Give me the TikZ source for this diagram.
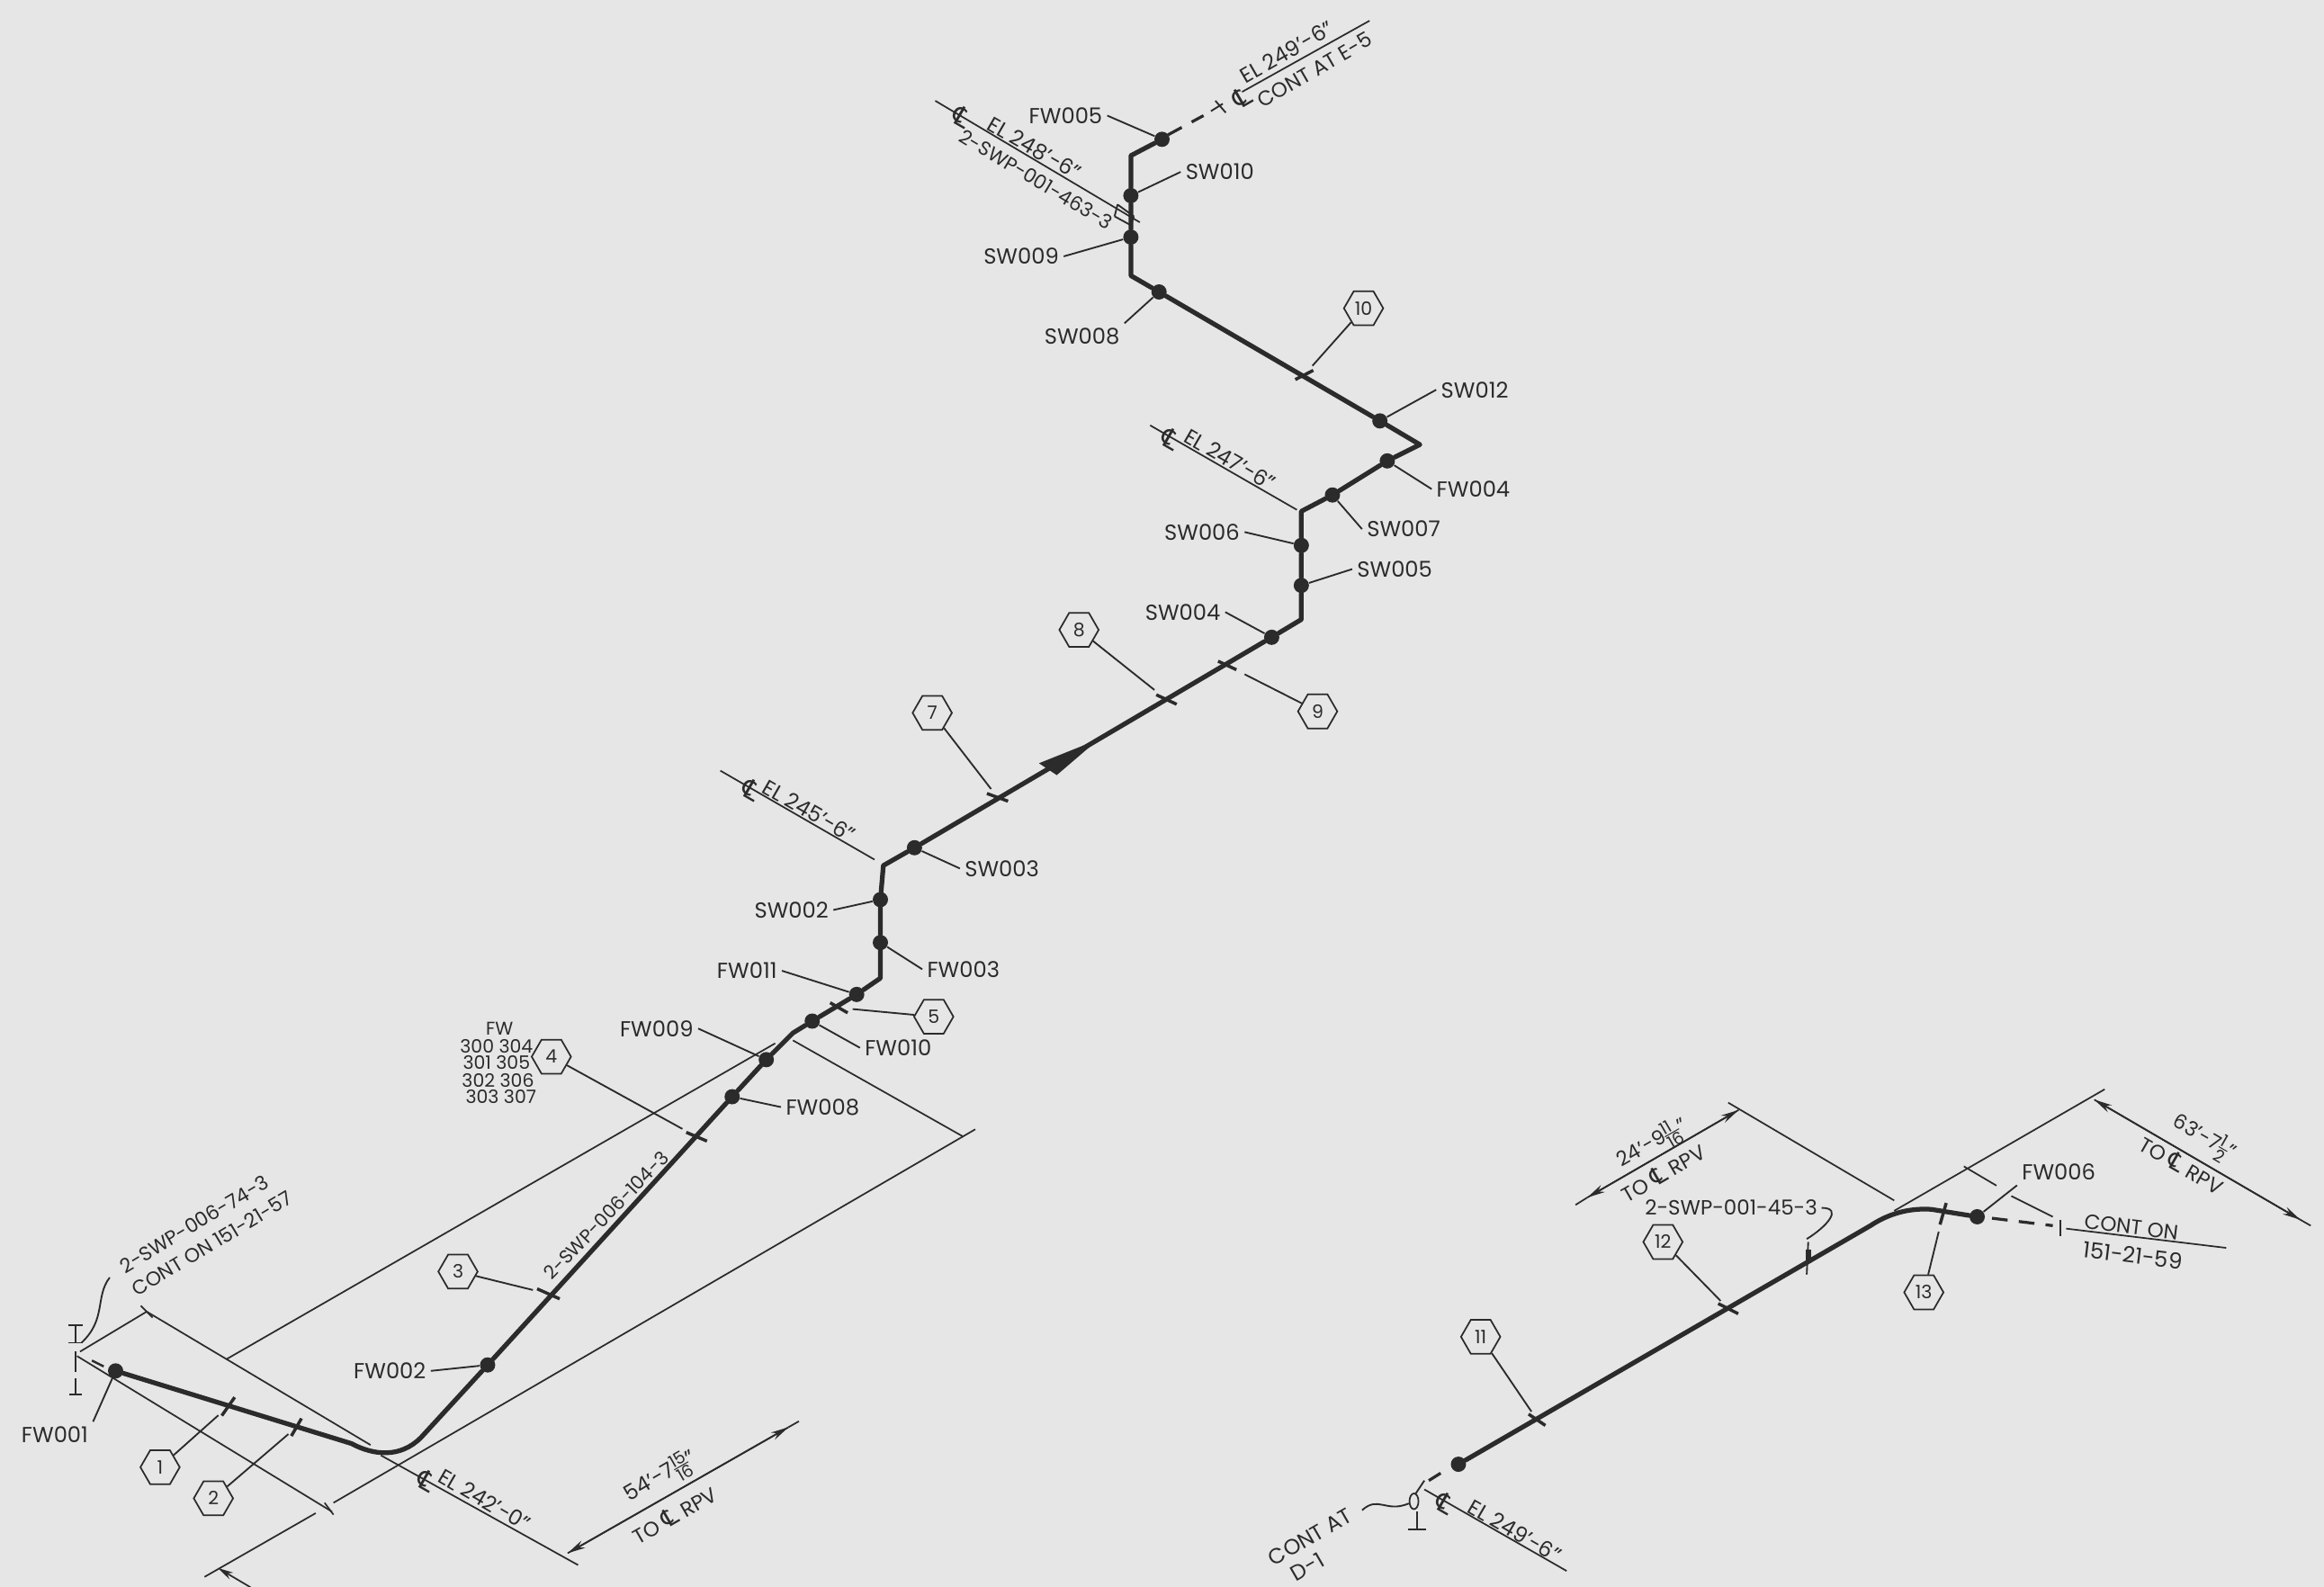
\documentclass[tikz,border=0pt]{standalone}
\usepackage{fontspec}
\setmainfont{Poppins}
\newfontfamily\djf{DejaVu Sans}
\usetikzlibrary{shapes.geometric,arrows.meta,calc}
\definecolor{ink}{HTML}{2B2B2B}
\definecolor{paper}{HTML}{E6E6E6}
\newcommand{\cln}{{\djf\fontsize{11}{11}\selectfont ℄}}
\newcommand{\frc}[2]{$\vcenter{\hbox{\fontsize{7.6}{8}\selectfont #1}\kern.5pt\hrule\kern.5pt\hbox{\fontsize{7.6}{8}\selectfont #2}}$}
\tikzset{
  pipe/.style={draw=ink,line width=2.1pt,line join=round,line cap=round},
  dashpipe/.style={draw=ink,line width=1.3pt,dash pattern=on 7pt off 5pt},
  thin/.style={draw=ink,line width=0.7pt},
  lead/.style={draw=ink,line width=0.75pt},
  dotn/.style={circle,fill=ink,inner sep=0pt,minimum size=6.8pt},
  lab/.style={text=ink,font=\fontsize{9.7}{11}\selectfont,inner sep=2pt},
  eltx/.style={text=ink,font=\fontsize{9.5}{11}\selectfont,inner sep=0pt},
  sm/.style={text=ink,font=\fontsize{8.2}{9.5}\selectfont,inner sep=0pt},
  rpv/.style={text=ink,font=\fontsize{9.2}{10}\selectfont,inner sep=0pt},
  hexn/.style={regular polygon,regular polygon sides=6,draw=ink,line width=0.7pt,inner sep=0pt,minimum size=17.5pt,text=ink,font=\fontsize{8.2}{9}\selectfont},
  tk/.style={fill=ink,inner sep=0pt,minimum height=1.4pt,minimum width=#1},
  tk/.default=10pt,
  clmark/.style={text=ink,font=\djf\fontsize{12}{12}\selectfont,inner sep=0pt},
  dim/.style={draw=ink,line width=0.7pt},
  dimarr/.style={dim,-{Stealth[length=8pt,width=3.6pt]}},
}
\begin{document}
\begin{tikzpicture}[x=0.66pt,y=-0.66pt]
\useasboundingbox[fill=paper] (0,0) rectangle (1568,1070.8);

% ---------- dots on the main run
\node[dotn] (fw001) at (78,925) {};
\node[dotn] (fw002) at (329,921) {};
\node[dotn] (fw008) at (494,740) {};
\node[dotn] (fw009) at (517,715) {};
\node[dotn] (fw010) at (548,689) {};
\node[dotn] (fw011) at (578,671) {};
\node[dotn] (fw003) at (594,636) {};
\node[dotn] (sw002) at (594,607) {};
\node[dotn] (sw003) at (617,572) {};
\node[dotn] (sw004) at (858,430) {};
\node[dotn] (sw005) at (878,395) {};
\node[dotn] (sw006) at (878,368) {};
\node[dotn] (sw007) at (899,334) {};
\node[dotn] (fw004) at (936,311) {};
\node[dotn] (sw012) at (931,284) {};
\node[dotn] (sw008) at (782,197) {};
\node[dotn] (sw009) at (763,160) {};
\node[dotn] (sw010) at (763,132) {};
\node[dotn] (fw005) at (784,94) {};
\node[dotn] (pstart) at (984,988) {};
\node[dotn] (fw006) at (1334,821) {};

% ---------- pipe corners
\coordinate (b1) at (237,974);
\coordinate (b1a) at (252,982);
\coordinate (b1b) at (270,984);
\coordinate (b2) at (284,970);
\coordinate (b3) at (535,697);
\coordinate (c1) at (594,660);
\coordinate (c2) at (596,584);
\coordinate (c3) at (878,418);
\coordinate (c4) at (878,345);
\coordinate (c5) at (958,300);
\coordinate (c6) at (763,186);
\coordinate (c7) at (763,105);
\coordinate (e1) at (1262,827);
\coordinate (e1a) at (1274,819);
\coordinate (e1b) at (1288,815);
\coordinate (e2) at (1303,816);

\draw[pipe] (fw001) -- (b1) .. controls (b1a) and (b1b) .. (b2) -- (fw002) -- (fw008) -- (fw009) -- (b3) -- (fw010) -- (fw011) -- (c1) -- (fw003) -- (sw002) -- (c2) -- (sw003) -- (sw004) -- (c3) -- (sw005) -- (sw006) -- (c4) -- (sw007) -- (fw004) -- (c5) -- (sw012) -- (sw008) -- (c6) -- (sw009) -- (sw010) -- (c7) -- (fw005);
\draw[pipe] (pstart) -- (e1) .. controls (e1a) and (e1b) .. (e2) -- (fw006);

% flow arrow
\coordinate (fa) at (741,499);
\coordinate (fb) at (701,515);
\coordinate (fc) at (713,523);
\fill[ink] (fa) -- (fb) -- (fc) -- cycle;

% ---------- ticks
\node[tk=10pt,rotate=55] (t1) at (154,949) {};
\node[tk=9pt,rotate=60] (t2) at (200,963) {};
\node[tk=11pt,rotate=-24] (t3) at (370,873) {};
\node[tk=10pt,rotate=-23] (t4) at (470,767) {};
\node[tk=9pt,rotate=-30] (t5) at (566,680) {};
\node[tk=10pt,rotate=-20] (t7) at (673,538) {};
\node[tk=10pt,rotate=-25] (t8) at (787,472) {};
\node[tk=9pt,rotate=-25] (t9) at (828,449) {};
\node[tk=9pt,rotate=27] (t10) at (880,253) {};
\node[tk=9pt,rotate=-34] (t11) at (1037,958) {};
\node[tk=10pt,rotate=-27] (t12) at (1166,883) {};
\node[tk=10pt,rotate=74] (t13) at (1311,819) {};

% ---------- hexagons
\node[hexn] (h1) at (108,990) {1};
\node[hexn] (h2) at (144,1011) {2};
\node[hexn] (h3) at (309,858) {3};
\node[hexn] (h4) at (372,713) {4};
\node[hexn] (h5) at (630,686) {5};
\node[hexn] (h7) at (629,481) {7};
\node[hexn] (h8) at (728,425) {8};
\node[hexn] (h9) at (889,480) {9};
\node[hexn] (h10) at (920,208) {10};
\node[hexn] (h11) at (999,902) {11};
\node[hexn] (h12) at (1122,838) {12};
\node[hexn] (h13) at (1298,872) {13};

\draw[lead,shorten >=2pt] (h1) -- (t1);
\draw[lead,shorten >=2pt] (h2) -- (t2);
\draw[lead,shorten >=2pt] (h3) -- (t3);
\draw[lead,shorten >=2pt] (h4) -- (t4);
\draw[lead,shorten >=4pt] (h5) -- (t5);
\draw[lead,shorten >=3pt] (h7) -- (t7);
\draw[lead,shorten >=3pt] (h8) -- (t8);
\draw[lead,shorten >=4pt] (h9) -- (t9);
\draw[lead,shorten >=3pt] (h10) -- (t10);
\draw[lead,shorten >=2pt] (h11) -- (t11);
\draw[lead,shorten >=2pt] (h12) -- (t12);
\draw[lead,shorten >=3pt] (h13) -- (t13);

% ---------- dot labels
\node[lab] (Lfw001) at (37,968) {FW001};
\node[lab] (Lfw002) at (263,925) {FW002};
\node[lab] (Lfw008) at (555,747) {FW008};
\node[lab] (Lfw009) at (443,694) {FW009};
\node[lab] (Lfw010) at (606,707) {FW010};
\node[lab] (Lfw011) at (504,655) {FW011};
\node[lab] (Lfw003) at (650,654) {FW003};
\node[lab] (Lsw002) at (534,614) {SW002};
\node[lab] (Lsw003) at (676,586) {SW003};
\node[lab] (Lsw004) at (798,413) {SW004};
\node[lab] (Lsw005) at (941,384) {SW005};
\node[lab] (Lsw006) at (811,359) {SW006};
\node[lab] (Lsw007) at (947,357) {SW007};
\node[lab] (Lfw004) at (994,330) {FW004};
\node[lab] (Lsw012) at (995,263) {SW012};
\node[lab] (Lsw008) at (730,227) {SW008};
\node[lab] (Lsw009) at (689,173) {SW009};
\node[lab] (Lsw010) at (823,116) {SW010};
\node[lab] (Lfw005) at (719,78) {FW005};
\node[lab] (Lfw006) at (1389,791) {FW006};

\draw[lead] (Lfw001.north east) -- (fw001);
\draw[lead] (Lfw002.east) -- (fw002);
\draw[lead] (Lfw008.west) -- (fw008);
\draw[lead] (Lfw009.east) -- (fw009);
\draw[lead] (Lfw010.west) -- (fw010);
\draw[lead] (Lfw011.east) -- (fw011);
\draw[lead] (Lfw003.west) -- (fw003);
\draw[lead] (Lsw002.east) -- (sw002);
\draw[lead] (Lsw003.west) -- (sw003);
\draw[lead] (Lsw004.east) -- (sw004);
\draw[lead] (Lsw005.west) -- (sw005);
\draw[lead] (Lsw006.east) -- (sw006);
\draw[lead] (Lsw007.west) -- (sw007);
\draw[lead] (Lfw004.west) -- (fw004);
\draw[lead] (Lsw012.west) -- (sw012);
\draw[lead] (Lsw008.north east) -- (sw008);
\draw[lead] (Lsw009.east) -- (sw009);
\draw[lead] (Lsw010.west) -- (sw010);
\draw[lead] (Lfw005.east) -- (fw005);
\draw[lead] (Lfw006.south west) -- (fw006);

% FW table
\node[sm] (ftab0) at (337,694) {FW};
\node[sm] (ftab1) at (335,706) {300 304};
\node[sm] (ftab2) at (335,717) {301 305};
\node[sm] (ftab3) at (336,729) {302 306};
\node[sm] (ftab4) at (338,740) {303 307};

% ---------- top end
\coordinate (u1) at (788,91);
\coordinate (u2) at (812,78);
\coordinate (u3) at (817,75);
\coordinate (u4) at (825,70);
\coordinate (u5) at (820,68);
\coordinate (u6) at (827,76);
\draw[dashpipe] (u1) -- (u2);
\draw[lead] (u3) -- (u4) (u5) -- (u6);
\coordinate (el249a) at (838,62);
\coordinate (el249b) at (924,14);
\draw[thin] (el249a) -- (el249b);
\node[clmark,rotate=30] (cl249) at (838,66) {℄};
\node[eltx,rotate=30] (tel249) at (868,35) {EL 249'-6"};
\node[eltx,rotate=30,font=\fontsize{9.2}{10}\selectfont] (tcont) at (887,47) {CONT AT E-5};

% EL 248
\coordinate (el248a) at (631,68);
\coordinate (el248b) at (769,150);
\draw[thin] (el248a) -- (el248b);
\node[clmark,rotate=-30] (cl248) at (649,79) {℄};
\node[eltx,rotate=-30] (tel248) at (698,100) {EL 248'-6"};
\node[eltx,rotate=-31,font=\fontsize{8.7}{10}\selectfont] (tln463) at (699,121) {2-SWP-001-463-3};
\coordinate (ha1) at (754,138);
\coordinate (ha2) at (752,146);
\coordinate (ha3) at (765,146);
\coordinate (ha4) at (763,152);
\draw[lead] (ha1) -- (ha2) (ha3) -- (ha4) (ha1) -- (ha3) (ha2) -- (ha4);

% EL 247
\coordinate (el247a) at (776,287);
\coordinate (el247b) at (875,344);
\draw[thin] (el247a) -- (el247b);
\node[clmark,rotate=-30] (cl247) at (790,296) {℄};
\node[eltx,rotate=-30] (tel247) at (830,310) {EL 247'-6"};

% EL 245
\coordinate (el245a) at (486,520);
\coordinate (el245b) at (590,580);
\draw[thin] (el245a) -- (el245b);
\node[clmark,rotate=-30] (cl245) at (507,533) {℄};
\node[eltx,rotate=-30] (tel245) at (546,547) {EL 245'-6"};

% line number along run
\node[sm,rotate=46,font=\fontsize{8.4}{9}\selectfont] (tln104) at (409,820) {2-SWP-006-104-3};

% ---------- lower left dimension work
\coordinate (k1) at (153,917);
\coordinate (k2) at (523,704);
\draw[thin] (k1) -- (k2);
\coordinate (k3) at (535,702);
\coordinate (k4) at (650,767);
\draw[thin] (k3) -- (k4);
\coordinate (k5) at (658,762);
\coordinate (k6) at (225,1014);
\draw[thin] (k5) -- (k6);
\coordinate (k7) at (213,1021);
\coordinate (k8) at (138,1064);
\draw[thin] (k7) -- (k8);
\coordinate (k9) at (99,885);
\coordinate (k10) at (250,975);
\draw[thin] (k9) -- (k10);
\coordinate (k11) at (54,912);
\draw[thin] (k11) -- (k9);
\coordinate (k12) at (52,915);
\coordinate (k13) at (224,1020);
\draw[thin] (k12) -- (k13);
\coordinate (k14) at (257,982);
\coordinate (k15) at (390,1056);
\draw[thin] (k14) -- (k15);
\coordinate (k16) at (95,881);
\coordinate (k17) at (103,889);
\draw[thin] (k16) -- (k17);
\coordinate (k18) at (219,1014);
\coordinate (k19) at (225,1022);
\draw[thin] (k18) -- (k19);
\node[clmark,rotate=-30] (cl242) at (288,999) {℄};
\node[eltx,rotate=-30] (tel242) at (327,1012) {EL 242'-0"};

% dimension 54'-7 15/16
\coordinate (da) at (383,1048);
\coordinate (db) at (532,963);
\coordinate (dc) at (539,959);
\draw[dimarr] (db) -- (da);
\draw[dim,-{Stealth[length=8pt,width=3.6pt]}] (da) -- (db);
\draw[dim] (db) -- (dc);
\node[rpv,rotate=30,font=\fontsize{9.5}{10}\selectfont] (td54) at (446,997) {54'-7\frc{15}{16}"};
\node[rpv,rotate=30] (td54b) at (455,1022) {TO \cln\ RPV};
\coordinate (dd) at (147,1058);
\coordinate (de) at (169,1071);
\draw[dim,-{Stealth[length=7pt,width=3.4pt]}] (de) -- (dd);

% FW001 terminator
\coordinate (s1) at (51,894);
\coordinate (s2) at (51,906);
\coordinate (s3) at (46,894);
\coordinate (s4) at (56,894);
\coordinate (s5) at (46,906);
\coordinate (s6) at (56,906);
\coordinate (s7) at (51,912);
\coordinate (s8) at (51,926);
\coordinate (s9) at (51,930);
\coordinate (s10) at (51,941);
\coordinate (s11) at (47,941);
\coordinate (s12) at (55,941);
\draw[lead] (s1) -- (s2) (s3) -- (s4) (s5) -- (s6) (s7) -- (s8) (s9) -- (s10) (s11) -- (s12);
\coordinate (s13) at (62,918);
\coordinate (s14) at (70,922);
\draw[lead,line width=1pt] (s13) -- (s14);
\coordinate (q1) at (74,862);
\coordinate (q2) at (64,875);
\coordinate (q3) at (72,890);
\coordinate (q4) at (55,906);
\draw[lead] (q1) .. controls (q2) and (q3) .. (q4);
\node[sm,rotate=31,font=\fontsize{8.8}{9}\selectfont] (tln74) at (131,826) {2-SWP-006-74-3};
\node[sm,rotate=31,font=\fontsize{8.8}{9}\selectfont] (tcont57) at (143,839) {CONT ON 151-21-57};

% ---------- lower right
\coordinate (m1) at (1166,744);
\coordinate (m2) at (1278,810);
\draw[thin] (m1) -- (m2);
\coordinate (m3) at (1420,735);
\coordinate (m4) at (1278,817);
\draw[thin] (m3) -- (m4);
\coordinate (m5) at (1325,787);
\coordinate (m6) at (1347,800);
\draw[thin] (m5) -- (m6);
\coordinate (m7) at (1357,807);
\coordinate (m8) at (1385,821);
\draw[thin] (m7) -- (m8);

% dim 24'-9 11/16
\coordinate (p1) at (1063,813);
\coordinate (p2) at (1173,749);
\coordinate (p3) at (1071,808);
\draw[dim,-{Stealth[length=8pt,width=3.6pt]}] (p3) -- (p2);
\draw[dim,-{Stealth[length=8pt,width=3.6pt]}] (p2) -- (p3);
\draw[dim] (p3) -- (p1);
\node[rpv,rotate=30,font=\fontsize{9}{10}\selectfont] (td24) at (1115,772) {24'-9\frc{11}{16}"};
\node[rpv,rotate=30] (td24b) at (1122,791) {TO \cln\ RPV};

% dim 63'-7 1/2
\coordinate (r1) at (1413,742);
\coordinate (r2) at (1559,827);
\coordinate (r3) at (1552,823);
\draw[dim,-{Stealth[length=8pt,width=3.6pt]}] (r3) -- (r1);
\draw[dim,-{Stealth[length=8pt,width=3.6pt]}] (r1) -- (r3);
\draw[dim] (r3) -- (r2);
\node[rpv,rotate=-30,font=\fontsize{9}{10}\selectfont] (td63) at (1487,768) {63'-7\frc{1}{2}"};
\node[rpv,rotate=-30] (td63b) at (1472,786) {TO \cln\ RPV};

% FW006 continuation
\coordinate (w1) at (1344,822);
\coordinate (w2) at (1385,827);
\draw[dashpipe] (w1) -- (w2);
\coordinate (w3) at (1390,823);
\coordinate (w4) at (1390,834);
\draw[lead] (w3) -- (w4);
\coordinate (w5) at (1394,829);
\coordinate (w6) at (1502,842);
\draw[thin] (w5) -- (w6);
\node[rpv,rotate=-7] (tcon) at (1438,828) {CONT ON};
\node[rpv,rotate=-7,font=\fontsize{9.8}{10}\selectfont] (tcon2) at (1439,847) {151-21-59};

% line number 45
\node[rpv] (tln45) at (1168,815) {2-SWP-001-45-3};
\coordinate (x1) at (1229,815);
\coordinate (x2) at (1244,815);
\coordinate (x3) at (1232,828);
\coordinate (x4) at (1219,836);
\draw[lead] (x1) .. controls (x2) and (x3) .. (x4);
\coordinate (x5) at (1220,838);
\coordinate (x6) at (1219,860);
\draw[lead] (x5) -- (x6);
\coordinate (x7) at (1220,843);
\coordinate (x8) at (1220,852);
\draw[lead,line width=2.4pt] (x7) -- (x8);

% lower-left end of second run
\coordinate (y1) at (972,994);
\coordinate (y2) at (964,999);
\draw[lead,line width=1.3pt] (y1) -- (y2);
\coordinate (y3) at (961,999);
\coordinate (y4) at (955,1008);
\draw[lead] (y3) -- (y4);
\node[draw=ink,line width=0.7pt,ellipse,inner sep=0pt,minimum width=4pt,minimum height=7pt] (y5) at (954,1013) {};
\coordinate (y6) at (956,1020);
\coordinate (y7) at (956,1032);
\coordinate (y8) at (950,1032);
\coordinate (y9) at (962,1032);
\draw[lead] (y6) -- (y7) (y8) -- (y9);
\coordinate (y10) at (919,1019);
\coordinate (y11) at (930,1009);
\coordinate (y12) at (935,1021);
\draw[lead] (y10) .. controls (y11) and (y12) .. (y5);
\coordinate (y13) at (961,1005);
\coordinate (y14) at (1057,1060);
\draw[thin] (y13) -- (y14);
\node[clmark,rotate=-30] (cl249b) at (975,1014) {℄};
\node[eltx,rotate=-30] (tel249b) at (1022,1033) {EL 249'-6"};
\node[rpv,rotate=30,font=\fontsize{9.6}{10}\selectfont] (tcontat) at (884,1037) {CONT AT};
\node[rpv,rotate=30,font=\fontsize{9.6}{10}\selectfont] (td1) at (882,1057) {D-1};
\end{tikzpicture}
\end{document}
